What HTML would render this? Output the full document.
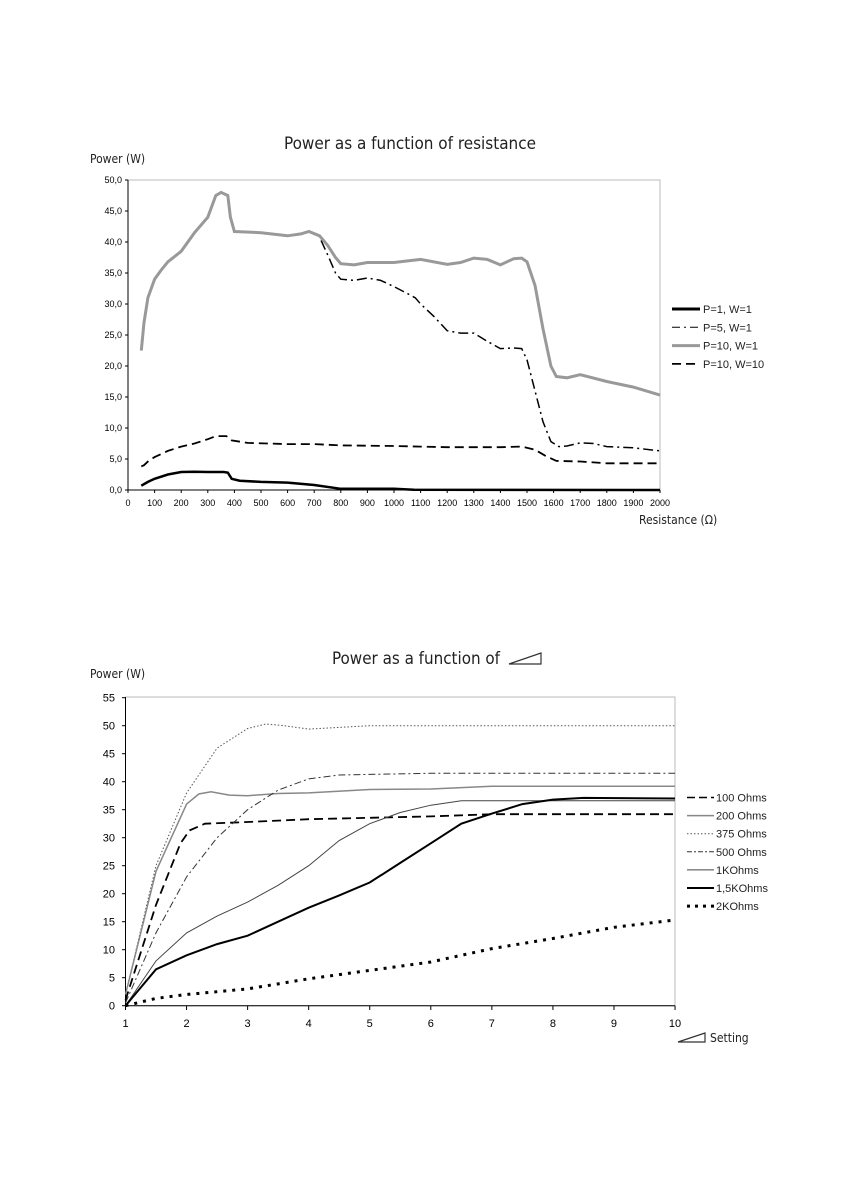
<!DOCTYPE html>
<html><head><meta charset="utf-8"><style>
body{margin:0;background:#fff;}
svg{display:block;font-family:"Liberation Sans",sans-serif;}
</style></head><body>
<svg id="s" width="850" height="1191" xmlns="http://www.w3.org/2000/svg">
<rect width="850" height="1191" fill="#fff"/>
<text x="284" y="149" font-size="17" textLength="252" lengthAdjust="spacingAndGlyphs" fill="#222" font-family="DejaVu Sans Condensed, sans-serif">Power as a function of resistance</text>
<text x="90" y="163" font-size="12" fill="#222" font-family="DejaVu Sans Condensed, sans-serif">Power (W)</text>
<rect x="128" y="180" width="532" height="310" fill="none" stroke="#bbb" stroke-width="1"/>
<text x="639" y="524" font-size="12" fill="#222" font-family="DejaVu Sans Condensed, sans-serif">Resistance (Ω)</text>
<text x="332" y="664" font-size="17" textLength="168" lengthAdjust="spacingAndGlyphs" fill="#222" font-family="DejaVu Sans Condensed, sans-serif">Power as a function of</text>
<polygon points="509,664 541,664 541,653" fill="none" stroke="#333" stroke-width="1.2"/>
<text x="90" y="678" font-size="12" fill="#222" font-family="DejaVu Sans Condensed, sans-serif">Power (W)</text>
<rect x="125.5" y="697" width="549.5" height="308.7" fill="none" stroke="#bbb" stroke-width="1"/>
<polygon points="678,1042 705,1042 705,1033" fill="none" stroke="#333" stroke-width="1.2"/>
<text x="710" y="1042" font-size="12" fill="#222" font-family="DejaVu Sans Condensed, sans-serif">Setting</text>
<g id="g"></g>
</svg>
<script>
var g=document.getElementById('g'),h='';
function X1(r){return 128+r*0.266}function Y1(p){return 490-p*6.2}
function X2(s){return 125.5+(s-1)*61.06}function Y2(p){return 1005.7-p*5.6}
function pl(d,fx,fy,st){h+='<polyline fill="none" points="'+d.map(function(a){return fx(a[0]).toFixed(1)+','+fy(a[1]).toFixed(1)}).join(' ')+'" '+st+'/>'}
h+='<line x1="128" y1="180" x2="128" y2="490" stroke="#000"/><line x1="128" y1="490" x2="660" y2="490" stroke="#000"/>';
for(var i=0;i<=10;i++){var y=Y1(i*5);h+='<line x1="125" x2="128" y1="'+y+'" y2="'+y+'" stroke="#000"/><text x="122" y="'+(y+3)+'" font-size="9" text-anchor="end">'+(i*5)+',0</text>'}
for(var i=0;i<=20;i++){var x=X1(i*100);h+='<line x1="'+x+'" x2="'+x+'" y1="490" y2="493" stroke="#000"/><text x="'+x+'" y="506" font-size="9" text-anchor="middle">'+(i*100)+'</text>'}
var gr=[[50,22.5],[60,27],[75,31],[100,34],[125,35.5],[150,36.8],[200,38.5],[250,41.5],[300,44],[330,47.5],[350,48],[375,47.5],[385,44],[400,41.7],[500,41.5],[600,41],[650,41.3],[680,41.7],[720,41],[750,39.5],[780,37.5],[800,36.5],[850,36.3],[900,36.7],[1000,36.7],[1100,37.2],[1200,36.4],[1250,36.7],[1300,37.4],[1350,37.2],[1400,36.3],[1450,37.3],[1480,37.4],[1500,36.8],[1530,33],[1560,26],[1590,20],[1610,18.3],[1650,18.1],[1700,18.6],[1800,17.5],[1900,16.6],[2000,15.3]];
var dd=gr.slice(0,19).concat([[720,40.8],[750,38],[780,35],[800,34],[850,33.8],[900,34.2],[950,33.8],[1000,32.8],[1050,31.7],[1080,31],[1100,30],[1150,28],[1200,25.7],[1250,25.3],[1300,25.3],[1350,24],[1400,22.8],[1450,22.9],[1480,22.8],[1500,21],[1530,16],[1560,11],[1590,7.8],[1620,7],[1650,7.1],[1700,7.6],[1750,7.5],[1800,7],[1900,6.8],[2000,6.3]]);
var dsh=[[50,3.8],[60,4],[80,4.8],[100,5.3],[150,6.3],[200,7],[250,7.5],[300,8.2],[330,8.7],[370,8.7],[390,8],[450,7.6],[600,7.4],[700,7.4],[800,7.2],[1000,7.1],[1100,7],[1200,6.9],[1400,6.9],[1480,7],[1530,6.5],[1570,5.5],[1610,4.7],[1700,4.6],[1800,4.3],[2000,4.3]];
var bk=[[50,0.7],[75,1.3],[100,1.8],[150,2.5],[200,2.9],[250,2.95],[300,2.9],[360,2.9],[375,2.8],[390,1.8],[420,1.5],[500,1.3],[600,1.2],[700,0.8],[800,0.2],[1000,0.2],[1075,0.05],[2000,0]];
pl(dd,X1,Y1,'stroke="#000" stroke-width="1.5" stroke-dasharray="10,4,2,4"');
pl(gr,X1,Y1,'stroke="#999" stroke-width="3"');
pl(dsh,X1,Y1,'stroke="#000" stroke-width="1.8" stroke-dasharray="9,5"');
pl(bk,X1,Y1,'stroke="#000" stroke-width="2.5"');
var L1=[['P=1, W=1','stroke="#000" stroke-width="3"'],['P=5, W=1','stroke="#000" stroke-width="1" stroke-dasharray="8,4,2,4"'],['P=10, W=1','stroke="#999" stroke-width="3"'],['P=10, W=10','stroke="#000" stroke-width="1.8" stroke-dasharray="9,5"']];
L1.forEach(function(l,i){var y=309+i*18.3;h+='<line x1="672" x2="700" y1="'+y+'" y2="'+y+'" '+l[1]+'/><text x="703" y="'+(y+4)+'" font-size="11" fill="#222">'+l[0]+'</text>'});
h+='<line x1="125.5" y1="697" x2="125.5" y2="1005.7" stroke="#000"/><line x1="125.5" y1="1005.7" x2="675" y2="1005.7" stroke="#000"/>';
for(var i=0;i<=11;i++){var y=Y2(i*5);h+='<line x1="122" x2="125.5" y1="'+y+'" y2="'+y+'" stroke="#000"/><text x="115" y="'+(y+4)+'" font-size="11" text-anchor="end">'+(i*5)+'</text>'}
for(var i=1;i<=10;i++){var x=X2(i);h+='<line x1="'+x+'" x2="'+x+'" y1="1005.7" y2="1010" stroke="#000"/><text x="'+x+'" y="1027" font-size="11" text-anchor="middle">'+i+'</text>'}
pl([[1,2],[1.5,25],[2,38],[2.5,46],[3,49.5],[3.3,50.3],[3.6,50],[4,49.4],[4.5,49.7],[5,50],[10,50]],X2,Y2,'stroke="#555" stroke-width="1" stroke-dasharray="1.5,2"');
pl([[1,2],[1.5,24],[2,36],[2.2,37.8],[2.4,38.2],[2.7,37.6],[3,37.5],[3.5,37.9],[4,38],[5,38.6],[6,38.7],[7,39.2],[10,39.2]],X2,Y2,'stroke="#888" stroke-width="1.5"');
pl([[1,1],[1.5,18],[1.9,29],[2.05,31.3],[2.3,32.5],[3,32.8],[4,33.3],[6,33.8],[7,34.2],[10,34.2]],X2,Y2,'stroke="#000" stroke-width="1.8" stroke-dasharray="9,5"');
pl([[1,0.5],[1.5,13],[2,23],[2.5,30],[3,35],[3.5,38.5],[4,40.5],[4.5,41.2],[5,41.3],[6,41.5],[10,41.5]],X2,Y2,'stroke="#333" stroke-width="1" stroke-dasharray="7,3,2,3"');
pl([[1,0],[1.5,8],[2,13],[2.5,16],[3,18.5],[3.5,21.5],[4,25],[4.5,29.5],[5,32.5],[5.5,34.5],[6,35.8],[6.5,36.6],[10,36.6]],X2,Y2,'stroke="#444" stroke-width="1"');
pl([[1,0],[1.5,6.5],[2,9],[2.5,11],[3,12.5],[3.5,15],[4,17.5],[4.5,19.7],[5,22],[5.5,25.5],[6,29],[6.5,32.5],[7,34.3],[7.5,36],[8,36.8],[8.5,37.1],[10,37]],X2,Y2,'stroke="#000" stroke-width="2"');
pl([[1,0],[1.5,1.3],[2,2],[3,3],[4,4.8],[5,6.3],[6,7.8],[7,10.2],[8,12],[9,14],[10,15.3]],X2,Y2,'stroke="#000" stroke-width="3" stroke-dasharray="3,6"');
var L2=[['100 Ohms','stroke="#000" stroke-width="1.5" stroke-dasharray="8,4"'],['200 Ohms','stroke="#888" stroke-width="1.5"'],['375 Ohms','stroke="#555" stroke-dasharray="1.5,2"'],['500 Ohms','stroke="#333" stroke-dasharray="5,2,2,2"'],['1KOhms','stroke="#444"'],['1,5KOhms','stroke="#000" stroke-width="2"'],['2KOhms','stroke="#000" stroke-width="3" stroke-dasharray="3,5"']];
L2.forEach(function(l,i){var y=797.5+i*18.1;h+='<line x1="687" x2="714" y1="'+y+'" y2="'+y+'" '+l[1]+'/><text x="716" y="'+(y+4)+'" font-size="11" fill="#222">'+l[0]+'</text>'});
g.innerHTML=h;
</script>
</body></html>
